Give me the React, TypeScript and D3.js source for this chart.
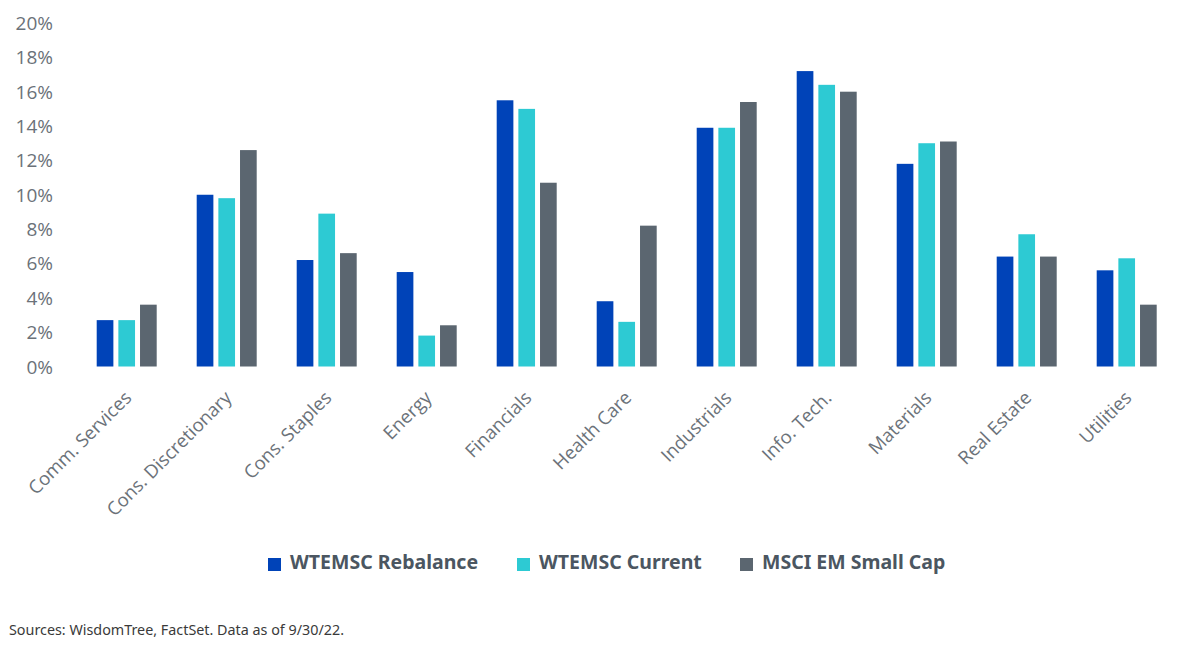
import React, { FC, useMemo } from "react";
/* @ts-ignore */
import * as d3 from "d3";

const categories = [
    "Comm. Services",
    "Cons. Discretionary",
    "Cons. Staples",
    "Energy",
    "Financials",
    "Health Care",
    "Industrials",
    "Info. Tech.",
    "Materials",
    "Real Estate",
    "Utilities",
];

const seriesNames = ["WTEMSC Rebalance", "WTEMSC Current", "MSCI EM Small Cap"];

const rebalance = [2.7, 10.0, 6.2, 5.5, 15.5, 3.8, 13.9, 17.2, 11.8, 6.4, 5.6];
const current = [2.7, 9.8, 8.9, 1.8, 15.0, 2.6, 13.9, 16.4, 13.0, 7.7, 6.3];
const msciSmallCap = [3.6, 12.6, 6.6, 2.4, 10.7, 8.2, 15.4, 16.0, 13.1, 6.4, 3.6];

const yTickValues = [0, 2, 4, 6, 8, 10, 12, 14, 16, 18, 20];

const colors = ["#0043b8", "#2dcad3", "#5b6670"];
const labelColor = "#6b7279";
const legendColor = "#4b5661";

const width = 1200;
const height = 648;

const App: FC = () => {
    const series = [rebalance, current, msciSmallCap];

    const x = useMemo(
        () =>
            d3
                .scaleBand()
                .domain(categories)
                .range([76.7, 1176.7])
                .paddingInner(0.4)
                .paddingOuter(0.2),
        []
    );

    const xs = useMemo(
        () =>
            d3
                .scaleBand()
                .domain(seriesNames)
                .range([0, x.bandwidth()])
                .paddingInner(0.23),
        [x]
    );

    const y = useMemo(() => d3.scaleLinear().domain([0, 20]).range([366.5, 23]), []);

    // legend item offsets (square left edges)
    const legendX = [268, 517, 740];

    return (
        <svg
            width={width}
            height={height}
            style={{ position: "absolute", top: 0, left: 0, background: "#fff" }}
        >
            {/* y tick labels */}
            <g fontFamily="'Open Sans', sans-serif" fontSize={19} fill={labelColor}>
                {yTickValues.map((t) => (
                    <text key={t} x={53} y={y(t)} textAnchor="end" dominantBaseline="central">
                        {`${t}%`}
                    </text>
                ))}
            </g>

            {/* bars */}
            <g>
                {categories.map((c, i) => (
                    <g key={c} transform={`translate(${x(c)},0)`}>
                        {series.map((s, j) => (
                            <rect
                                key={j}
                                x={xs(seriesNames[j])}
                                y={y(s[i])}
                                width={xs.bandwidth()}
                                height={y(0) - y(s[i])}
                                fill={colors[j]}
                            />
                        ))}
                    </g>
                ))}
            </g>

            {/* x labels */}
            <g fontFamily="'Open Sans', sans-serif" fontSize={18.5} fill={labelColor}>
                {categories.map((c) => (
                    <text
                        key={c}
                        textAnchor="end"
                        transform={`translate(${(x(c) as number) + x.bandwidth() / 2 + 6},399) rotate(-45)`}
                    >
                        {c}
                    </text>
                ))}
            </g>

            {/* legend */}
            <g fontFamily="'Noto Sans', sans-serif" fontSize={19.5} fontWeight="bold" fill={legendColor}>
                {seriesNames.map((name, j) => (
                    <g key={name} transform={`translate(${legendX[j]},0)`}>
                        <rect x={0} y={558} width={13} height={13} fill={colors[j]} />
                        <text x={22} y={569}>
                            {name}
                        </text>
                    </g>
                ))}
            </g>

            <text
                x={9}
                y={635}
                fontFamily="'Noto Sans', sans-serif"
                fontSize={15}
                fill="#3a3a3a"
                textLength={335}
                lengthAdjust="spacingAndGlyphs"
            >
                Sources: WisdomTree, FactSet. Data as of 9/30/22.
            </text>
        </svg>
    );
};

export default App;
